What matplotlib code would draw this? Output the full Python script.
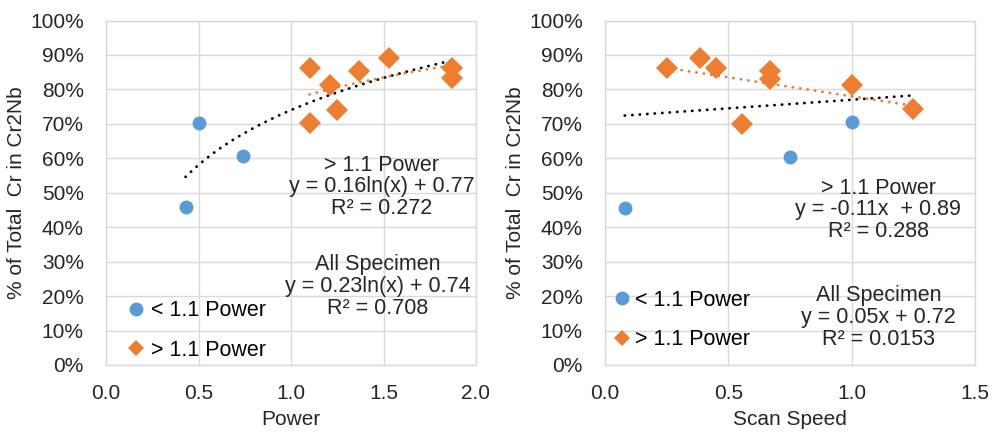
import matplotlib
matplotlib.use("Agg")
import matplotlib.pyplot as plt
import numpy as np
from matplotlib.ticker import PercentFormatter, MultipleLocator

plt.rcParams['font.family'] = ['Liberation Sans', 'DejaVu Sans']

# ---- data: left panel (Power) ----
power_low_x = [0.43, 0.50, 0.74]
power_low_y = [0.458, 0.703, 0.607]
power_high_x = [1.10, 1.21, 1.25, 1.10, 1.37, 1.53, 1.87, 1.87]
power_high_y = [0.863, 0.814, 0.741, 0.703, 0.853, 0.892, 0.863, 0.834]

# ---- data: right panel (Scan Speed) ----
speed_low_x = [0.08, 0.75, 1.00]
speed_low_y = [0.457, 0.604, 0.705]
speed_high_x = [0.25, 0.385, 0.45, 0.667, 0.667, 0.557, 1.00, 1.25]
speed_high_y = [0.862, 0.892, 0.862, 0.852, 0.829, 0.700, 0.814, 0.744]

# trendline coefficients (from chart labels)
left_all_coef = (0.23, 0.74)     # y = a ln(x) + b
left_high_coef = (0.16, 0.77)
right_all_coef = (0.05, 0.72)    # y = a x + b
right_high_coef = (-0.11, 0.89)

left_labels = ["> 1.1 Power\ny = 0.16ln(x) + 0.77\nR\u00b2 = 0.272",
               "All Specimen\ny = 0.23ln(x) + 0.74\nR\u00b2 = 0.708"]
right_labels = ["> 1.1 Power\ny = -0.11x  + 0.89\nR\u00b2 = 0.288",
                "All Specimen\ny = 0.05x + 0.72\nR\u00b2 = 0.0153"]

BLUE = '#5B9BD5'
ORANGE = '#ED7D31'
GRID = '#D9D9D9'
TXT = '#262626'
FS = 15
FSA = 15.5

fig = plt.figure(figsize=(9.92, 4.33), dpi=100)
axL = fig.add_axes([106/992, 68/433, 370/992, 344.5/433])
axR = fig.add_axes([605/992, 68/433, 370/992, 344.5/433])


def style(ax, xmax, xlabel):
    ax.set_ylim(0, 1)
    ax.set_xlim(0, xmax)
    ax.xaxis.set_major_locator(MultipleLocator(0.5))
    ax.yaxis.set_major_locator(MultipleLocator(0.1))
    ax.yaxis.set_major_formatter(PercentFormatter(1.0, decimals=0))
    ax.xaxis.set_major_formatter(matplotlib.ticker.FormatStrFormatter('%.1f'))
    ax.grid(True, color=GRID, linewidth=1.0)
    ax.set_axisbelow(True)
    for s in ax.spines.values():
        s.set_color(GRID)
        s.set_linewidth(1.0)
    ax.tick_params(length=0, labelsize=FS, colors=TXT)
    ax.tick_params(axis='y', pad=16)
    ax.tick_params(axis='x', pad=14)
    ax.set_xlabel(xlabel, fontsize=FS, color=TXT, labelpad=5)
    ax.set_ylabel('% of Total  Cr in Cr2Nb', fontsize=FS, color=TXT, labelpad=3)


def fix_legend(leg):
    hs = leg.legend_handles
    hs[0].set_markersize(10)
    hs[1].set_markersize(8)


dot_kw = dict(linestyle=(0, (0.1, 2.6)), linewidth=2.0, dash_capstyle='round')

# ---- left panel ----
ax = axL
style(ax, 2.0, 'Power')
xa = np.linspace(min(power_low_x), max(power_high_x), 200)
ax.plot(xa, left_all_coef[0] * np.log(xa) + left_all_coef[1], color='black', **dot_kw, zorder=2)
xh = np.linspace(min(power_high_x), max(power_high_x), 200)
ax.plot(xh, left_high_coef[0] * np.log(xh) + left_high_coef[1], color=ORANGE, **dot_kw, zorder=2)
ax.plot(power_low_x, power_low_y, 'o', color=BLUE, markersize=10, markeredgewidth=0,
        label='< 1.1 Power', zorder=3)
ax.plot(power_high_x, power_high_y, 'D', color=ORANGE, markersize=11, markeredgewidth=0,
        label='> 1.1 Power', zorder=3)
ax.text(1.49, 0.517, left_labels[0], ha='center', va='center', fontsize=FSA,
        linespacing=1.05, color=TXT)
ax.text(1.47, 0.228, left_labels[1], ha='center', va='center', fontsize=FSA,
        linespacing=1.05, color=TXT)
leg = ax.legend(loc='lower left', bbox_to_anchor=(0.035, -0.012), frameon=False, fontsize=FSA,
                handlelength=0.8, handletextpad=0.3, labelspacing=0.85, borderaxespad=0)
fix_legend(leg)

# ---- right panel ----
ax = axR
style(ax, 1.5, 'Scan Speed')
xa = np.linspace(min(speed_low_x), max(speed_high_x), 2)
ax.plot(xa, right_all_coef[0] * xa + right_all_coef[1], color='black', **dot_kw, zorder=2)
xh = np.linspace(min(speed_high_x), max(speed_high_x), 2)
ax.plot(xh, right_high_coef[0] * xh + right_high_coef[1], color=ORANGE, **dot_kw, zorder=2)
ax.plot(speed_low_x, speed_low_y, 'o', color=BLUE, markersize=10, markeredgewidth=0,
        label='< 1.1 Power', zorder=3)
ax.plot(speed_high_x, speed_high_y, 'D', color=ORANGE, markersize=11, markeredgewidth=0,
        label='> 1.1 Power', zorder=3)
ax.text(1.107, 0.45, right_labels[0], ha='center', va='center', fontsize=FSA,
        linespacing=1.05, color=TXT)
ax.text(1.11, 0.138, right_labels[1], ha='center', va='center', fontsize=FSA,
        linespacing=1.05, color=TXT)
leg = ax.legend(loc='lower left', bbox_to_anchor=(0.0, 0.018), frameon=False, fontsize=FSA,
                handlelength=0.8, handletextpad=0.2, labelspacing=0.85, borderaxespad=0)
fix_legend(leg)

fig.savefig('out.png', dpi=100)
